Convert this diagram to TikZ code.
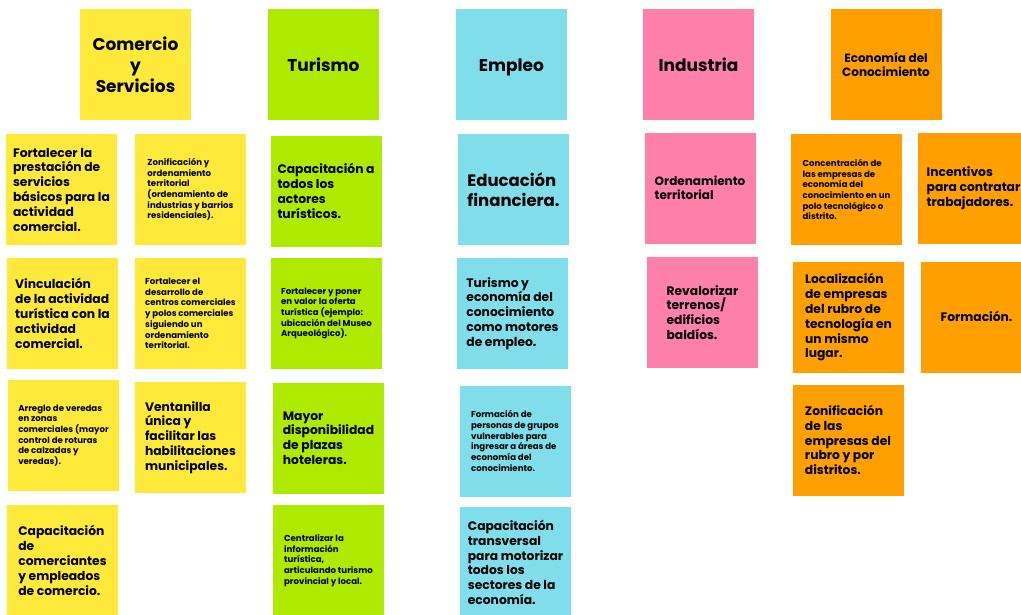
\documentclass[tikz,border=0pt]{standalone}
\usepackage{fontspec}
\setmainfont{Poppins}
\definecolor{cYel}{HTML}{FFE93B}
\definecolor{cGrn}{HTML}{AEEA00}
\definecolor{cCya}{HTML}{80DEEA}
\definecolor{cPnk}{HTML}{FF80AB}
\definecolor{cOrg}{HTML}{FFA000}
\tikzset{
  card/.style={rectangle, minimum width=111pt, minimum height=111pt, inner sep=0pt, outer sep=0pt,
    align=left, text=black, font=\bfseries\fontsize{12.3}{14.8}\selectfont},
  small/.style={font=\bfseries\fontsize{8.6}{10.7}\selectfont},
  big/.style={font=\bfseries\fontsize{16.5}{20}\selectfont},
  mid/.style={font=\bfseries\fontsize{12}{14}\selectfont},
  head/.style={align=center, font=\bfseries\fontsize{17}{21}\selectfont},
  headone/.style={text height=14pt, text depth=0pt},
  oneline/.style={text height=12pt, text depth=4pt},
  ylw/.style={card, fill=cYel},
  grn/.style={card, fill=cGrn},
  cya/.style={card, fill=cCya},
  pnk/.style={card, fill=cPnk},
  org/.style={card, fill=cOrg}
}
\begin{document}
\begin{tikzpicture}[x=1pt,y=-1pt]
\useasboundingbox (0,0) rectangle (1021,614);
\clip (0,0) rectangle (1021,614);
\fill[white] (0,0) rectangle (1021,614);
% headers
\node[ylw, head] (hCom) at (135.5,64.5) {Comercio\\y\\Servicios};
\node[grn, head, headone] (hTur) at (323.5,64.5) {Turismo};
\node[cya, head, headone] (hEmp) at (511.5,64.5) {Empleo};
\node[pnk, head, headone] (hInd) at (698.5,64.5) {Industria};
\node[org, head, mid] (hEco) at (886,64.5) {Economía del\\Conocimiento};
% Comercio y Servicios
\node[ylw] (c1) at (61.5,189.5) {Fortalecer la\\prestación de\\servicios\\básicos para la\\actividad\\comercial.};
\node[ylw, small] (c2) at (190.5,189.5) {Zonificación y\\ordenamiento\\territorial\\(ordenamiento de\\industrias y barrios\\residenciales).};
\node[ylw] (c3) at (62.5,313.5) {Vinculación\\de la actividad\\turística con la\\actividad\\comercial.};
\node[ylw, small] (c4) at (190.5,313.5) {Fortalecer el\\desarrollo de\\centros comerciales\\y polos comerciales\\siguiendo un\\ordenamiento\\territorial.};
\node[ylw, small] (c5) at (63.5,435.5) {Arreglo de veredas\\en zonas\\comerciales (mayor\\control de roturas\\de calzadas y\\veredas).};
\node[ylw] (c6) at (190.5,437.5) {Ventanilla\\única y\\facilitar las\\habilitaciones\\municipales.};
\node[ylw] (c7) at (62.5,560.5) {Capacitación\\de\\comerciantes\\y empleados\\de comercio.};
% Turismo
\node[grn] (t1) at (326,191) {Capacitación a\\todos los\\actores\\turísticos.};
\node[grn, small] (t2) at (326.5,313.5) {Fortalecer y poner\\en valor la oferta\\turística (ejemplo:\\ubicación del Museo\\Arqueológico).};
\node[grn] (t3) at (328.5,438) {Mayor\\disponibilidad\\de plazas\\hoteleras.};
\node[grn, small] (t4) at (328.5,560.5) {Centralizar la\\información\\turística,\\articulando turismo\\provincial y local.};
% Empleo
\node[cya, big] (e1) at (513.5,189.5) {Educación\\financiera.};
\node[cya] (e2) at (512.5,313.5) {Turismo y\\economía del\\conocimiento\\como motores\\de empleo.};
\node[cya, small] (e3) at (515,441) {Formación de\\personas de grupos\\vulnerables para\\ingresar a áreas de\\economía del\\conocimiento.};
\node[cya] (e4) at (515.5,562.5) {Capacitación\\transversal\\para motorizar\\todos los\\sectores de la\\economía.};
% Industria
\node[pnk, mid] (i1) at (700,188) {Ordenamiento\\territorial};
\node[pnk] (i2) at (702.5,312.5) {Revalorizar\\terrenos/\\edificios\\baldíos.};
% Economia del conocimiento
\node[org, small] (k1) at (846.5,189.5) {Concentración de\\las empresas de\\economía del\\conocimiento en un\\polo tecnológico o\\distrito.};
\node[org] (k2) at (973.5,188.5) {Incentivos\\para contratar\\trabajadores.};
\node[org] (k3) at (848.5,317.5) {Localización\\de empresas\\del rubro de\\tecnología en\\un mismo\\lugar.};
\node[org, oneline] (k4) at (976.5,317.5) {Formación.};
\node[org] (k5) at (848,440) {Zonificación\\de las\\empresas del\\rubro y por\\distritos.};
\end{tikzpicture}
\end{document}
